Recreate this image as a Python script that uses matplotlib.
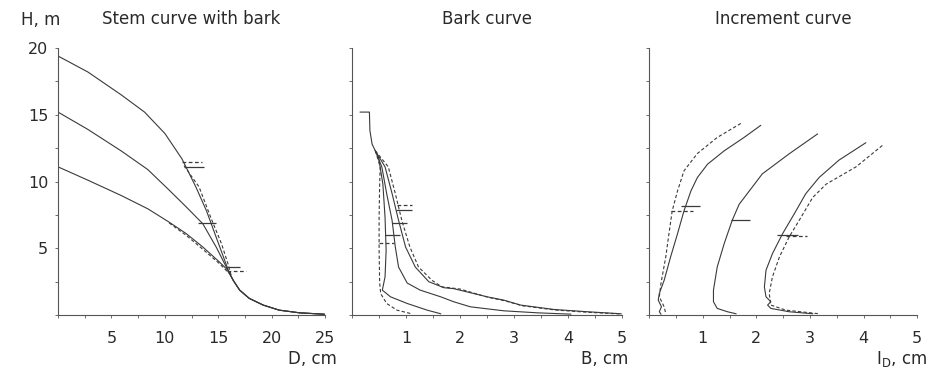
import matplotlib
matplotlib.use("Agg")
import matplotlib.pyplot as plt
from matplotlib.ticker import MultipleLocator, NullFormatter

# Stem curve with bark: height H (m) against diameter D (cm)
stem_tail_d = [16.4, 17.0, 17.9, 19.2, 20.7, 22.6, 24.8, 25.0]
stem_tail_h = [2.6, 1.87, 1.25, 0.75, 0.37, 0.17, 0.07, 0.05]
stem_a_d = [0, 2.8, 5.9, 8.1, 10.0, 11.6, 12.9, 13.9, 14.8, 15.6, 16.05] + stem_tail_d
stem_a_h = [19.4, 18.2, 16.5, 15.2, 13.6, 11.7, 9.6, 7.8, 5.84, 4.1, 3.1] + stem_tail_h
stem_b_d = [0, 2.8, 5.9, 8.4, 10.35, 12.0, 13.55, 14.8, 15.75] + stem_tail_d
stem_b_h = [15.2, 13.9, 12.3, 10.9, 9.4, 8.1, 6.84, 5.1, 3.6] + stem_tail_h
stem_c_d = [0, 2.8, 5.9, 8.4, 10.4, 12.0, 13.55, 15.1, 15.9] + stem_tail_d
stem_c_h = [11.1, 10.1, 8.96, 7.96, 6.96, 6.1, 5.1, 3.98, 3.36] + stem_tail_h
stem_a_model_d = [11.8, 12.4, 13.2, 14.3, 15.3, 15.9, 16.2]
stem_a_model_h = [11.2, 10.5, 9.6, 7.3, 5.35, 3.86, 3.0]
stem_c_model_d = [10.4, 12.0, 13.55, 15.1, 16.05]
stem_c_model_h = [6.9, 5.97, 4.93, 3.86, 3.1]

# Bark curve: height H (m) against bark thickness B (cm)
bark_top_b = [0.15, 0.32, 0.33, 0.37, 0.43]
bark_top_h = [15.2, 15.2, 13.8, 12.8, 12.3]
bark_1_b = bark_top_b + [0.49, 0.57, 0.61, 0.63, 0.61, 0.56, 0.71, 1.02, 1.39, 1.64]
bark_1_h = bark_top_h + [11.8, 9.8, 7.3, 4.85, 2.86, 1.87, 1.37, 0.87, 0.37, 0.1]
bark_1_model_b = [0.43, 0.52, 0.51, 0.50, 0.50, 0.51, 0.53, 0.64, 0.83, 1.08]
bark_1_model_h = [12.3, 11.1, 9.8, 7.3, 4.85, 2.4, 1.6, 0.87, 0.37, 0.12]
bark_2_b = [0.43, 0.55, 0.64, 0.74, 0.80, 0.86, 1.02, 1.26, 1.64, 1.88, 2.19, 2.81, 3.43, 4.05]
bark_2_h = [12.3, 11.1, 9.1, 7.1, 5.1, 3.6, 2.4, 1.87, 1.37, 1.0, 0.62, 0.32, 0.17, 0.07]
bark_3_b = [0.43, 0.61, 0.74, 0.86, 0.99, 1.17, 1.42, 1.70, 1.88, 2.50, 2.81, 3.12, 3.74, 4.36, 4.98]
bark_3_h = [12.3, 11.1, 9.1, 7.1, 5.1, 3.6, 2.5, 2.05, 1.98, 1.37, 1.12, 0.75, 0.42, 0.25, 0.1]
bark_3_model_b = [0.43, 0.67, 0.80, 0.92, 1.07, 1.23, 1.48, 1.66, 2.0, 2.52, 2.84, 3.15, 3.76, 4.4, 5.0]
bark_3_model_h = [12.3, 11.1, 9.1, 7.1, 5.1, 3.6, 2.6, 2.12, 1.95, 1.33, 1.06, 0.7, 0.38, 0.2, 0.08]

# Increment curve: height H (m) against diameter increment I_D (cm)
inc_1_i = [2.08, 1.77, 1.40, 1.09, 0.90, 0.78, 0.65, 0.53, 0.40, 0.28, 0.19, 0.17, 0.23, 0.19, 0.22]
inc_1_h = [14.2, 13.3, 12.3, 11.3, 10.3, 9.3, 7.8, 6.1, 4.35, 2.6, 1.62, 1.12, 0.62, 0.25, 0.07]
inc_1_model_i = [1.71, 1.27, 0.90, 0.65, 0.53, 0.43, 0.37, 0.31, 0.22, 0.19, 0.28, 0.31]
inc_1_model_h = [14.35, 13.3, 12.1, 10.8, 9.3, 7.8, 6.1, 4.35, 2.36, 1.37, 0.62, 0.12]
inc_2_i = [3.14, 2.61, 2.11, 1.87, 1.68, 1.55, 1.40, 1.27, 1.20, 1.20, 1.27, 1.46, 1.62]
inc_2_h = [13.56, 12.07, 10.57, 9.3, 8.3, 7.1, 5.35, 3.6, 1.87, 1.0, 0.5, 0.25, 0.1]
inc_3_i = [4.04, 3.54, 3.17, 2.92, 2.71, 2.49, 2.30, 2.18, 2.15, 2.18, 2.27, 2.21, 2.27, 2.61, 3.05]
inc_3_h = [12.9, 11.6, 10.3, 9.08, 7.6, 6.1, 4.6, 3.36, 2.1, 1.37, 1.0, 0.75, 0.5, 0.25, 0.1]
inc_3_model_i = [4.35, 3.86, 3.30, 3.05, 2.83, 2.61, 2.43, 2.30, 2.24, 2.27, 2.55, 3.17]
inc_3_model_h = [12.7, 11.1, 9.8, 8.8, 7.3, 5.84, 4.35, 2.86, 1.62, 0.75, 0.37, 0.1]

# Short horizontal marks: height, start, end, dashed?
stem_mark_h = [11.5, 11.1, 6.9, 3.6, 3.3]
stem_mark_x0 = [11.6, 11.8, 13.1, 15.8, 15.8]
stem_mark_x1 = [13.5, 13.7, 14.8, 17.0, 17.6]
stem_mark_dashed = [True, False, False, False, True]

bark_mark_h = [8.28, 7.84, 6.92, 5.97, 5.4]
bark_mark_x0 = [0.83, 0.81, 0.74, 0.60, 0.49]
bark_mark_x1 = [1.11, 1.10, 1.02, 0.88, 0.78]
bark_mark_dashed = [True, False, False, False, True]

inc_mark_h = [8.16, 7.76, 7.1, 6.02, 5.9]
inc_mark_x0 = [0.59, 0.40, 1.52, 2.39, 2.55]
inc_mark_x1 = [0.95, 0.81, 1.88, 2.77, 2.95]
inc_mark_dashed = [False, True, False, False, True]

LINE = "#3a3a3a"
AXIS = "#555555"
TEXT = "#2a2a2a"
DASH = (0, (3, 2))
FS = 11.5

plt.rcParams["font.family"] = ["DejaVu Sans"]

fig = plt.figure(figsize=(9.34, 3.72), dpi=100)
ax1 = fig.add_axes([0.0621, 0.153, 0.286, 0.718])
ax2 = fig.add_axes([0.377, 0.153, 0.289, 0.718])
ax3 = fig.add_axes([0.695, 0.153, 0.287, 0.718])


def style_axis(ax, xmax, xmajor, xminor, ylabels):
    ax.set_xlim(0, xmax)
    ax.set_ylim(0, 20)
    for side in ("top", "right"):
        ax.spines[side].set_visible(False)
    for side in ("left", "bottom"):
        ax.spines[side].set_color(AXIS)
        ax.spines[side].set_linewidth(0.8)
    ax.spines["left"].set_bounds(0, 20)
    ax.spines["bottom"].set_bounds(0, xmax)
    ax.xaxis.set_major_locator(MultipleLocator(xmajor))
    ax.xaxis.set_minor_locator(MultipleLocator(xminor))
    ax.yaxis.set_major_locator(MultipleLocator(5))
    ax.yaxis.set_minor_locator(MultipleLocator(2.5))
    ax.tick_params(which="both", direction="out", length=2.5, width=0.6,
                   color=AXIS, labelsize=FS, labelcolor=TEXT)
    ax.tick_params(axis="x", pad=9)
    ax.tick_params(axis="y", pad=4.5)
    ax.set_xticks([t for t in ax.get_xticks() if 0 < t <= xmax])
    ax.set_yticks([5, 10, 15, 20])
    if not ylabels:
        ax.yaxis.set_major_formatter(NullFormatter())


def draw_marks(ax, hs, x0s, x1s, dashed):
    for h, a, b, d in zip(hs, x0s, x1s, dashed):
        ax.hlines(h, a, b, colors=LINE, linewidth=0.9,
                  linestyles=DASH if d else "solid")


style_axis(ax1, 25, 5, 2.5, True)
style_axis(ax2, 5, 1, 0.5, False)
style_axis(ax3, 5, 1, 0.5, False)

# stem curves
for d, h in [(stem_a_d, stem_a_h), (stem_b_d, stem_b_h), (stem_c_d, stem_c_h)]:
    ax1.plot(d, h, color=LINE, linewidth=0.8)
for d, h in [(stem_a_model_d, stem_a_model_h), (stem_c_model_d, stem_c_model_h)]:
    ax1.plot(d, h, color=LINE, linewidth=0.8, linestyle=DASH)
draw_marks(ax1, stem_mark_h, stem_mark_x0, stem_mark_x1, stem_mark_dashed)

# bark curves
for b, h in [(bark_1_b, bark_1_h), (bark_2_b, bark_2_h), (bark_3_b, bark_3_h)]:
    ax2.plot(b, h, color=LINE, linewidth=0.8)
for b, h in [(bark_1_model_b, bark_1_model_h), (bark_3_model_b, bark_3_model_h)]:
    ax2.plot(b, h, color=LINE, linewidth=0.8, linestyle=DASH)
draw_marks(ax2, bark_mark_h, bark_mark_x0, bark_mark_x1, bark_mark_dashed)

# increment curves
for i, h in [(inc_1_i, inc_1_h), (inc_2_i, inc_2_h), (inc_3_i, inc_3_h)]:
    ax3.plot(i, h, color=LINE, linewidth=0.8)
for i, h in [(inc_1_model_i, inc_1_model_h), (inc_3_model_i, inc_3_model_h)]:
    ax3.plot(i, h, color=LINE, linewidth=0.8, linestyle=DASH)
draw_marks(ax3, inc_mark_h, inc_mark_x0, inc_mark_x1, inc_mark_dashed)

# titles and axis labels
for ax, title in [(ax1, "Stem curve with bark"), (ax2, "Bark curve"),
                  (ax3, "Increment curve")]:
    ax.set_title(title, fontsize=12, color=TEXT, pad=17)
fig.text(0.023, 0.934, "H, m", fontsize=12, color=TEXT, va="baseline")
ax1.text(1.045, -0.165, "D, cm", transform=ax1.transAxes, fontsize=12,
         color=TEXT, ha="right", va="center")
ax2.text(1.022, -0.165, "B, cm", transform=ax2.transAxes, fontsize=12,
         color=TEXT, ha="right", va="center")
ax3.text(1.037, -0.165, r"I$_{\mathrm{D}}$, cm", transform=ax3.transAxes,
         fontsize=12, color=TEXT, ha="right", va="center")

fig.savefig("out.png", dpi=100)
